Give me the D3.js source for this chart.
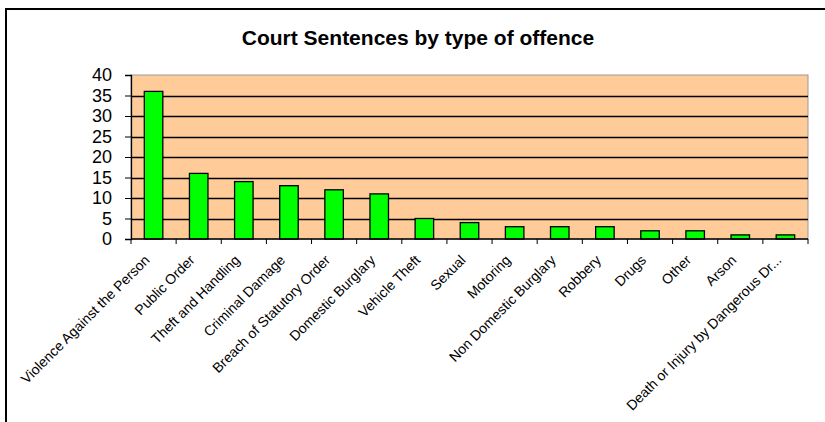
<!DOCTYPE html>
<html>
<head>
<meta charset="utf-8">
<script src="https://cdn.jsdelivr.net/npm/d3@7"></script>
<style>
  body { margin: 0; background: #fff; }
  svg { display: block; font-family: Arial, "Liberation Sans", sans-serif; }
</style>
</head>
<body>
<div id="app"></div>
<script>
// offence categories and number of sentences
const offences = [
  'Violence Against the Person', 'Public Order', 'Theft and Handling',
  'Criminal Damage', 'Breach of Statutory Order', 'Domestic Burglary',
  'Vehicle Theft', 'Sexual', 'Motoring', 'Non Domestic Burglary',
  'Robbery', 'Drugs', 'Other', 'Arson', 'Death or Injury by Dangerous Dr...'
];
const sentences = [36, 16, 14, 13, 12, 11, 5, 4, 3, 3, 3, 2, 2, 1, 1];
const yTicks = [0, 5, 10, 15, 20, 25, 30, 35, 40];

const width = 825, height = 422;
const plot = { left: 131, top: 75, right: 808, bottom: 239 };

const svg = d3.select('#app').append('svg')
  .attr('width', width)
  .attr('height', height);

// chart frame (right and bottom edges run off the picture)
svg.append('rect')
  .attr('x', 6).attr('y', 9)
  .attr('width', 900).attr('height', 500)
  .attr('fill', 'none')
  .attr('stroke', '#000')
  .attr('stroke-width', 2);

svg.append('text')
  .attr('x', 418).attr('y', 45)
  .attr('text-anchor', 'middle')
  .style('font-size', '21px')
  .style('font-weight', 'bold')
  .text('Court Sentences by type of offence');

const xScale = d3.scaleBand()
  .domain(offences)
  .range([plot.left, plot.right])
  .paddingInner(0.59)
  .paddingOuter(0.295);

const yScale = d3.scaleLinear()
  .domain([0, 40])
  .range([plot.bottom, plot.top]);

// plot background
svg.append('rect')
  .attr('x', plot.left).attr('y', plot.top)
  .attr('width', plot.right - plot.left)
  .attr('height', plot.bottom - plot.top)
  .attr('fill', '#ffcc99')
  .attr('stroke', '#999')
  .attr('stroke-width', 1);

// gridlines
svg.append('g')
  .selectAll('line')
  .data(yTicks.filter(d => d > 0 && d < 40))
  .enter().append('line')
  .attr('x1', plot.left).attr('x2', plot.right)
  .attr('y1', d => Math.round(yScale(d)) + 0.5)
  .attr('y2', d => Math.round(yScale(d)) + 0.5)
  .attr('stroke', '#000')
  .attr('stroke-width', 1.3);

// bars
svg.append('g')
  .selectAll('rect')
  .data(offences)
  .enter().append('rect')
  .attr('x', d => xScale(d))
  .attr('y', (d, i) => yScale(sentences[i]))
  .attr('width', xScale.bandwidth())
  .attr('height', (d, i) => plot.bottom - yScale(sentences[i]))
  .attr('fill', '#00ff00')
  .attr('stroke', '#000')
  .attr('stroke-width', 1.3);

// y axis
const yAxis = svg.append('g')
  .attr('transform', `translate(${plot.left},0)`)
  .call(d3.axisLeft(yScale).tickValues(yTicks).tickSize(6).tickPadding(13));
yAxis.select('.domain').attr('stroke', '#000').attr('stroke-width', 1.3);
yAxis.selectAll('.tick line').attr('stroke', '#000');
yAxis.selectAll('.tick text')
  .attr('fill', '#000')
  .style('font-size', '18px')
  .style('font-family', 'Arial, "Liberation Sans", sans-serif');

// x axis line and ticks at category boundaries
const step = xScale.step();
const bounds = d3.range(offences.length + 1).map(i => plot.left + i * step);
svg.append('line')
  .attr('x1', plot.left).attr('x2', plot.right)
  .attr('y1', plot.bottom).attr('y2', plot.bottom)
  .attr('stroke', '#000').attr('stroke-width', 1.3);
svg.append('g')
  .selectAll('line')
  .data(bounds)
  .enter().append('line')
  .attr('x1', d => d).attr('x2', d => d)
  .attr('y1', plot.bottom).attr('y2', plot.bottom + 5)
  .attr('stroke', '#000');

// rotated category labels
svg.append('g')
  .selectAll('text')
  .data(offences)
  .enter().append('text')
  .attr('transform', d => `translate(${xScale(d) + xScale.bandwidth() / 2 - 10},254) rotate(-45)`)
  .attr('text-anchor', 'end')
  .attr('dy', '0.7em')
  .style('font-size', '14px')
  .text(d => d);
</script>
</body>
</html>
